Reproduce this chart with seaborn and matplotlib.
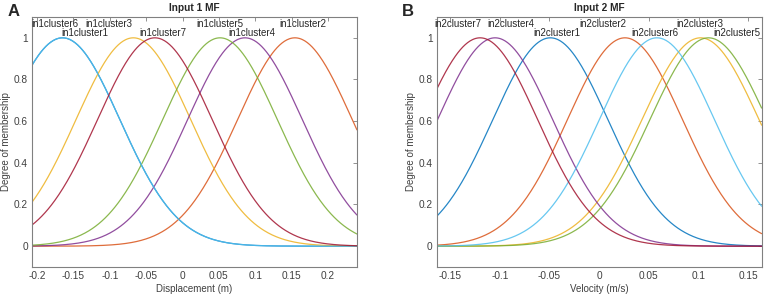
import numpy as np
import pandas as pd
import matplotlib
matplotlib.use("Agg")
import matplotlib.pyplot as plt
import seaborn as sns

# MATLAB default line colours, cluster1..cluster7
cluster_colors = ['#0072BD', '#D95319', '#EDB120', '#7E2F8E',
                  '#77AC30', '#4DBEEE', '#A2142F']

# Input 1 (displacement) gaussian MF parameters
in1_names = ['in1cluster1', 'in1cluster2', 'in1cluster3', 'in1cluster4',
             'in1cluster5', 'in1cluster6', 'in1cluster7']
in1_centers = [-0.165, 0.1546, -0.0676, 0.0859, 0.0516, -0.165, -0.038]
in1_sigma = [0.079, 0.079, 0.079, 0.079, 0.079, 0.079, 0.079]
in1_label_x = [-0.134, 0.1656, -0.101, 0.0948, 0.0515, -0.175, -0.0275]
in1_label_row = [0, 1, 1, 0, 1, 1, 0]
in1_xlim = (-0.207, 0.2399)
in1_ticks = [-0.2, -0.15, -0.1, -0.05, 0, 0.05, 0.1, 0.15, 0.2]

# Input 2 (velocity) gaussian MF parameters
in2_names = ['in2cluster1', 'in2cluster2', 'in2cluster3', 'in2cluster4',
             'in2cluster5', 'in2cluster6', 'in2cluster7']
in2_centers = [-0.0491, 0.026, 0.102, -0.1047, 0.110, 0.0581, -0.1198]
in2_sigma = [0.058, 0.058, 0.059, 0.058, 0.059, 0.058, 0.058]
in2_label_x = [-0.0429, 0.0039, 0.101, -0.0886, 0.1387, 0.0562, -0.1425]
in2_label_row = [0, 1, 1, 1, 0, 0, 1]
in2_xlim = (-0.1635, 0.1635)
in2_ticks = [-0.15, -0.1, -0.05, 0, 0.05, 0.1, 0.15]

y_ticks = [0, 0.2, 0.4, 0.6, 0.8, 1]


def fmt(v):
    return f"{v:g}"


def mf_frame(names, centers, sigmas, xlim):
    x = np.linspace(xlim[0], xlim[1], 400)
    rows = []
    for n, c, s in zip(names, centers, sigmas):
        y = np.exp(-(x - c) ** 2 / (2 * s ** 2))
        rows.append(pd.DataFrame({'x': x, 'mu': y, 'mf': n}))
    return pd.concat(rows, ignore_index=True)


def draw_panel(ax, names, centers, sigmas, label_x, label_row, xlim, ticks,
               title, xlabel):
    df = mf_frame(names, centers, sigmas, xlim)
    sns.lineplot(data=df, x='x', y='mu', hue='mf', hue_order=names,
                 palette=cluster_colors, linewidth=0.9, alpha=0.85,
                 legend=False, ax=ax)
    for n, lx, r in zip(names, label_x, label_row):
        ax.text(lx, 1.0 + 0.043 * r, n, ha='center', va='bottom',
                fontsize=7, color='#262626')
    ax.set_xlim(*xlim)
    ax.set_ylim(-0.1, 1.1)
    ax.set_xticks(ticks)
    ax.set_xticklabels([fmt(t) for t in ticks])
    ax.set_yticks(y_ticks)
    ax.set_yticklabels([fmt(t) for t in y_ticks])
    ax.tick_params(direction='in', length=3, width=0.6, color='#808080',
                   labelcolor='#404040', labelsize=7.3, pad=3,
                   top=True, right=True)
    for sp in ax.spines.values():
        sp.set_color('#808080')
        sp.set_linewidth(0.8)
    ax.set_xlabel(xlabel, fontsize=7, color='#404040', labelpad=2)
    ax.set_ylabel('Degree of membership', fontsize=7, color='#404040',
                  labelpad=2)
    ax.set_title(title, fontsize=7.3, fontweight='bold', pad=4)


sns.set_theme(style="white")
plt.rcParams['font.family'] = ['Liberation Sans', 'DejaVu Sans']

fig = plt.figure(figsize=(7.65, 2.97), dpi=100)
ax1 = fig.add_axes([0.0418, 0.101, 0.4248, 0.8418])
ax2 = fig.add_axes([0.5708, 0.101, 0.4248, 0.8418])

draw_panel(ax1, in1_names, in1_centers, in1_sigma, in1_label_x,
           in1_label_row, in1_xlim, in1_ticks, 'Input 1 MF',
           'Displacement (m)')
draw_panel(ax2, in2_names, in2_centers, in2_sigma, in2_label_x,
           in2_label_row, in2_xlim, in2_ticks, 'Input 2 MF',
           'Velocity (m/s)')

fig.text(0.010, 0.962, 'A', fontsize=12, fontweight='bold',
         ha='left', va='center')
fig.text(0.525, 0.962, 'B', fontsize=12, fontweight='bold',
         ha='left', va='center')

fig.savefig('out.png', dpi=100)
